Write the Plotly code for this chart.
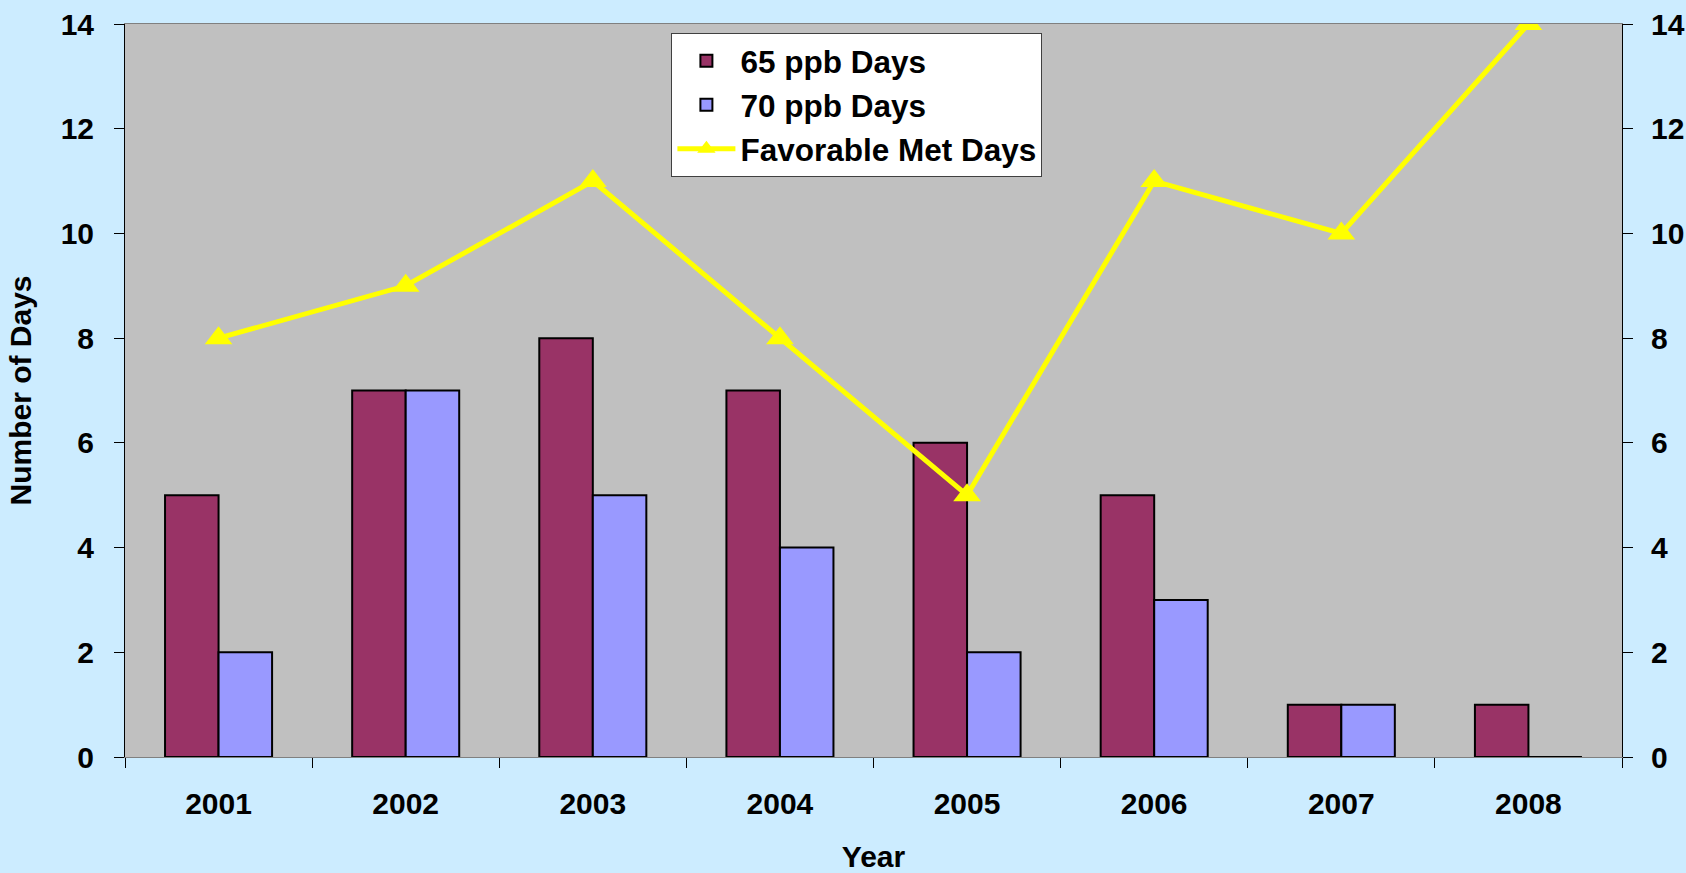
import plotly.graph_objects as go

years = ["2001", "2002", "2003", "2004", "2005", "2006", "2007", "2008"]
days_65 = [5, 7, 8, 7, 6, 5, 1, 1]
days_70 = [2, 7, 5, 4, 2, 3, 1, 0]
met_days = [8, 9, 11, 8, 5, 11, 10, 14]
y_ticks = [0, 2, 4, 6, 8, 10, 12, 14]

FONT = "Liberation Sans, Arial, sans-serif"
FS = 30

fig = go.Figure()
fig.add_trace(go.Bar(
    x=years, y=days_65, name="65 ppb Days",
    marker=dict(color="#993366", line=dict(color="#000000", width=2)),
    legendgroup="a",
))
fig.add_trace(go.Bar(
    x=years, y=days_70, name="70 ppb Days",
    marker=dict(color="#9999FF", line=dict(color="#000000", width=2)),
    legendgroup="b",
))
fig.add_trace(go.Scatter(
    x=years, y=met_days, name="Favorable Met Days", yaxis="y2",
    mode="lines+markers",
    line=dict(color="#FFFF00", width=5),
    marker=dict(symbol="triangle-up", size=24, color="#FFFF00"),
    legendgroup="c",
))

tickfont = dict(family=FONT, size=FS, color="#000000", weight="bold")
titlefont = dict(family=FONT, size=FS, color="#000000", weight="bold")

fig.update_layout(
    width=1686, height=873,
    margin=dict(l=125, r=64, t=24, b=116, autoexpand=False),
    paper_bgcolor="#CCECFF",
    plot_bgcolor="#C0C0C0",
    barmode="group",
    bargap=0.428,
    bargroupgap=0,
    font=dict(family=FONT, size=FS, color="#000000"),
    showlegend=True,
    legend=dict(
        x=0.365, y=0.988, xanchor="left", yanchor="top",
        bgcolor="#FFFFFF", bordercolor="#404040", borderwidth=1,
        font=dict(family=FONT, size=31.5, color="#000000", weight="bold"),
        traceorder="grouped", tracegroupgap=0, itemwidth=58,
    ),
    xaxis=dict(
        type="category",
        tickson="boundaries",
        ticks="outside", ticklen=10, tickcolor="#000000",
        showline=True, linecolor="#808080", linewidth=1, mirror=True,
        showgrid=False, zeroline=False,
        tickfont=tickfont,
        ticklabelstandoff=20,
        title=dict(text="Year", font=titlefont, standoff=33),
    ),
    yaxis=dict(
        range=[0, 14], tickvals=y_ticks,
        ticks="outside", ticklen=10, tickcolor="#000000",
        showline=True, linecolor="#000000", linewidth=1,
        showgrid=False, zeroline=False,
        tickfont=tickfont,
        ticklabelstandoff=14,
        title=dict(text="Number of Days", font=titlefont, standoff=20),
    ),
    yaxis2=dict(
        range=[0, 14], tickvals=y_ticks, overlaying="y", side="right",
        ticks="outside", ticklen=10, tickcolor="#000000",
        showline=True, linecolor="#000000", linewidth=1,
        showgrid=False, zeroline=False,
        tickfont=tickfont,
        ticklabelstandoff=12,
    ),
)

fig.write_html(
    "out.html",
    config={"displayModeBar": False},
    post_script="document.body.style.margin='0';document.body.style.overflow='hidden';",
)
